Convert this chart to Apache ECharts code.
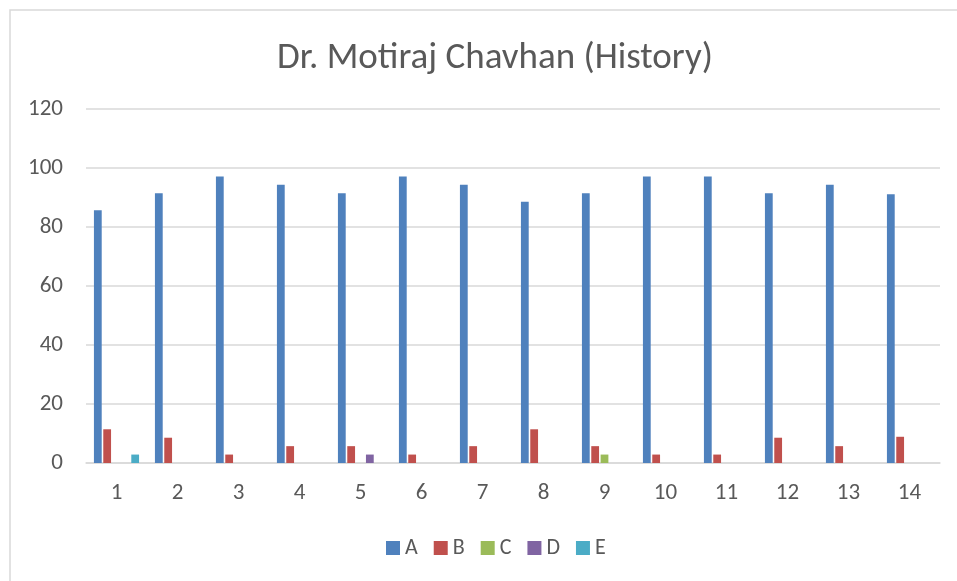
<!DOCTYPE html>
<html>
<head>
<meta charset="utf-8">
<script src="https://cdn.jsdelivr.net/npm/echarts@6/dist/echarts.min.js"></script>
<style>
  html, body { margin: 0; padding: 0; background: #fff; }
  #chart { width: 957px; height: 581px; }
</style>
</head>
<body>
<div id="chart"></div>
<script>
// categories and series values (percent)
const categories = ["1", "2", "3", "4", "5", "6", "7", "8", "9", "10", "11", "12", "13", "14"];
const seriesNames = ["A", "B", "C", "D", "E"];
const valuesA = [85.71, 91.43, 97.14, 94.29, 91.43, 97.14, 94.29, 88.57, 91.43, 97.14, 97.14, 91.43, 94.29, 91.11];
const valuesB = [11.43, 8.57, 2.86, 5.71, 5.71, 2.86, 5.71, 11.43, 5.71, 2.86, 2.86, 8.57, 5.71, 8.89];
const valuesC = [0, 0, 0, 0, 0, 0, 0, 0, 2.86, 0, 0, 0, 0, 0];
const valuesD = [0, 0, 0, 0, 2.86, 0, 0, 0, 0, 0, 0, 0, 0, 0];
const valuesE = [2.86, 0, 0, 0, 0, 0, 0, 0, 0, 0, 0, 0, 0, 0];
const colors = ["#4f81bd", "#c0504d", "#9bbb59", "#8064a2", "#4bacc6"];

const chart = echarts.init(document.getElementById("chart"), null, { renderer: "canvas" });
const textFont = "Calibri, Carlito, 'Open Sans', 'Noto Sans', sans-serif";
const allValues = [valuesA, valuesB, valuesC, valuesD, valuesE];

const option = {
  animation: false,
  color: colors,
  title: {
    text: "Dr. Motiraj Chavhan (History)",
    left: 272,
    top: 35,
    textStyle: {
      fontFamily: textFont,
      fontWeight: "normal",
      fontSize: 37,
      color: "#595959"
    }
  },
  // light chart frame, only top and left edges fall inside the picture
  graphic: [
    {
      type: "rect",
      shape: { x: 10, y: 10, width: 1000, height: 700 },
      style: { fill: "none", stroke: "#d9d9d9", lineWidth: 1.5 },
      silent: true
    }
  ],
  grid: {
    left: 86,
    right: 17,
    top: 109,
    bottom: 118
  },
  legend: {
    bottom: 17,
    left: 381,
    itemWidth: 14,
    itemHeight: 14,
    itemGap: 16,
    icon: "rect",
    textStyle: {
      fontFamily: textFont,
      fontSize: 22,
      color: "#595959"
    },
    data: seriesNames
  },
  xAxis: {
    type: "category",
    data: categories,
    axisLine: { show: true, lineStyle: { color: "#d9d9d9", width: 1.5 } },
    axisTick: { show: false },
    axisLabel: {
      margin: 19,
      fontFamily: textFont,
      fontSize: 23,
      color: "#595959"
    }
  },
  yAxis: {
    type: "value",
    min: 0,
    max: 120,
    interval: 20,
    axisLine: { show: false },
    axisTick: { show: false },
    axisLabel: {
      margin: 23,
      fontFamily: textFont,
      fontSize: 23,
      color: "#595959"
    },
    splitLine: {
      lineStyle: { color: "#d9d9d9", width: 1.5 }
    }
  },
  series: seriesNames.map((name, i) => ({
    name: name,
    type: "bar",
    data: allValues[i],
    barGap: "20%",
    barCategoryGap: "26%"
  }))
};
chart.setOption(option);
</script>
</body>
</html>
